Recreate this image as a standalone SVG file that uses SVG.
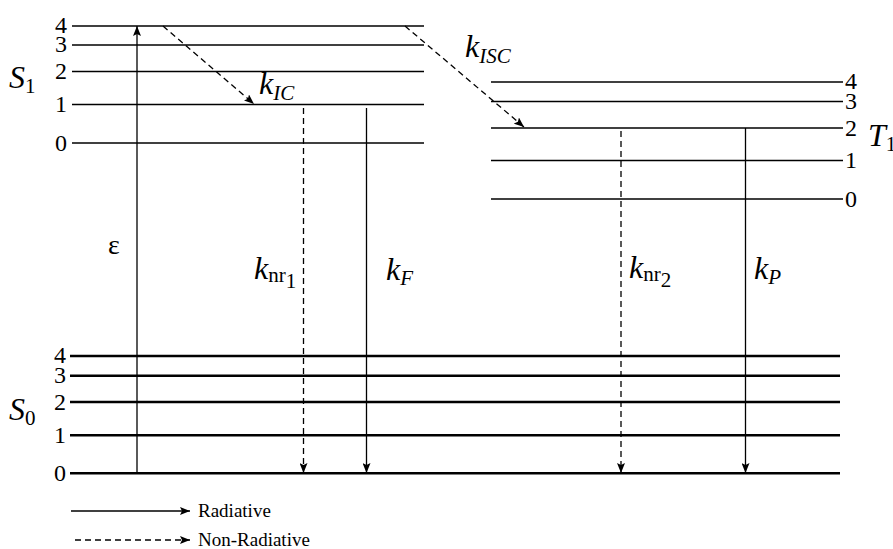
<svg xmlns="http://www.w3.org/2000/svg" width="893" height="549" viewBox="0 0 893 549" font-family="'Liberation Serif', 'Times New Roman', serif">
<defs>
<marker id="ah" viewBox="0 0 10 8" refX="10" refY="4" markerWidth="10" markerHeight="8" markerUnits="userSpaceOnUse" orient="auto">
<path d="M0,0 L10,4 L0,8 L2,4 Z" fill="#000"/>
</marker>
</defs>
<style>
.lvl{stroke:#000;stroke-width:1.6}
.lvl0{stroke:#000;stroke-width:2.4}
.sol{stroke:#000;stroke-width:1.3;fill:none}
.das{stroke:#000;stroke-width:1.3;fill:none;stroke-dasharray:6,4}
text, tspan{font-family:'Liberation Serif', 'DejaVu Serif', serif;fill:#000}
.d{font-size:24px}
.big{font-size:32px;font-style:italic}
.sub{font-size:21px;font-style:italic}
.subr{font-size:21px;font-style:normal}
.leg{font-size:19px}
</style>
<rect width="893" height="549" fill="#fff"/>
<g id="S1">
<line class="lvl" x1="72" y1="26" x2="424" y2="26"/>
<line class="lvl" x1="72" y1="45" x2="424" y2="45"/>
<line class="lvl" x1="72" y1="71.5" x2="424" y2="71.5"/>
<line class="lvl" x1="72" y1="104.5" x2="424" y2="104.5"/>
<line class="lvl" x1="72" y1="143" x2="424" y2="143"/>
<text class="d" x="67" y="33" text-anchor="end">4</text>
<text class="d" x="67" y="52" text-anchor="end">3</text>
<text class="d" x="67" y="79" text-anchor="end">2</text>
<text class="d" x="67" y="112" text-anchor="end">1</text>
<text class="d" x="67" y="151" text-anchor="end">0</text>
<text class="big" x="9" y="88">S<tspan class="subr" dy="5">1</tspan></text>
</g>
<g id="T1">
<line class="lvl" x1="491" y1="82" x2="843" y2="82"/>
<line class="lvl" x1="491" y1="101.5" x2="843" y2="101.5"/>
<line class="lvl" x1="491" y1="128" x2="843" y2="128"/>
<line class="lvl" x1="491" y1="160.5" x2="843" y2="160.5"/>
<line class="lvl" x1="491" y1="199" x2="843" y2="199"/>
<text class="d" x="845" y="89">4</text>
<text class="d" x="845" y="108.5">3</text>
<text class="d" x="845" y="135.5">2</text>
<text class="d" x="845" y="168">1</text>
<text class="d" x="845" y="206.5">0</text>
<text class="big" x="868" y="146">T<tspan class="subr" dy="5">1</tspan></text>
</g>
<g id="S0">
<line class="lvl0" x1="70" y1="356" x2="840" y2="356"/>
<line class="lvl0" x1="70" y1="375.7" x2="840" y2="375.7"/>
<line class="lvl0" x1="70" y1="402" x2="840" y2="402"/>
<line class="lvl0" x1="70" y1="435.3" x2="840" y2="435.3"/>
<line class="lvl0" x1="70" y1="473.3" x2="840" y2="473.3"/>
<text class="d" x="66" y="363" text-anchor="end">4</text>
<text class="d" x="66" y="382.7" text-anchor="end">3</text>
<text class="d" x="66" y="409.5" text-anchor="end">2</text>
<text class="d" x="66" y="443" text-anchor="end">1</text>
<text class="d" x="66" y="481" text-anchor="end">0</text>
<text class="big" x="9" y="420">S<tspan class="subr" dy="5">0</tspan></text>
</g>
<g id="connectors">
<line class="sol" x1="137" y1="473" x2="137" y2="26" marker-end="url(#ah)"/>
<line class="das" x1="163" y1="26" x2="254" y2="104" marker-end="url(#ah)"/>
<line class="das" x1="405" y1="26" x2="524" y2="127" marker-end="url(#ah)"/>
<line class="das" x1="303.5" y1="108" x2="303.5" y2="473" marker-end="url(#ah)"/>
<line class="sol" x1="366.5" y1="108" x2="366.5" y2="473" marker-end="url(#ah)"/>
<line class="das" x1="621" y1="131" x2="621" y2="473" marker-end="url(#ah)"/>
<line class="sol" x1="745.5" y1="128" x2="745.5" y2="473" marker-end="url(#ah)"/>
</g>
<g id="labels">
<text x="108" y="254" font-size="28">ε</text>
<text class="big" x="259" y="94">k<tspan class="sub" dy="6">IC</tspan></text>
<text class="big" x="465" y="57">k<tspan class="sub" dy="6">ISC</tspan></text>
<text class="big" x="254" y="279">k<tspan class="subr" dy="3">nr</tspan><tspan class="subr" dy="6">1</tspan></text>
<text class="big" x="386" y="280">k<tspan class="sub" dy="5">F</tspan></text>
<text class="big" x="629" y="278">k<tspan class="subr" dy="3">nr</tspan><tspan class="subr" dy="6">2</tspan></text>
<text class="big" x="754" y="279">k<tspan class="sub" dy="5">P</tspan></text>
</g>
<g id="legend">
<line class="sol" x1="71" y1="511" x2="190" y2="511" marker-end="url(#ah)"/>
<text class="leg" x="198" y="517">Radiative</text>
<line class="das" x1="75" y1="540" x2="190" y2="540" stroke-dasharray="4,3" marker-end="url(#ah)"/>
<text class="leg" x="198" y="546">Non-Radiative</text>
</g>
</svg>
